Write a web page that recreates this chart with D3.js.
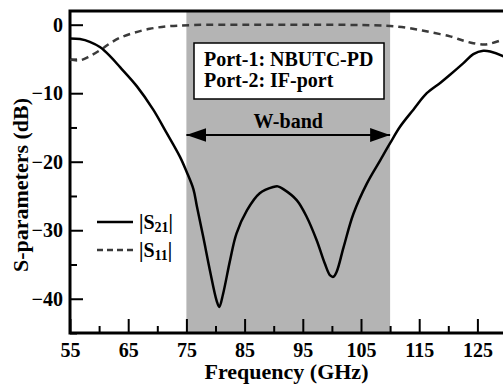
<!DOCTYPE html>
<html>
<head>
<meta charset="utf-8">
<script src="https://cdn.jsdelivr.net/npm/d3@7"></script>
<style>
  body { margin: 0; background: #fff; }
  svg text { font-family: "Liberation Serif", "Times New Roman", serif; font-weight: bold; fill: #000; }
</style>
</head>
<body>
<figure id="chart" style="margin:0"></figure>
<script>
// S21
const s21Freq = [55, 56.7, 58.4, 60.2, 62, 63.6, 66.5, 69.3, 71.6, 73.9, 75, 76.2, 76.8, 77.9, 79.05, 80.2, 80.65,
  81.3, 82.5, 83.6, 85.4, 87.6, 89.9, 90.7, 91.65, 93.95, 95.7, 97.4, 98.8, 99.7, 100.25, 100.8, 102, 103.7,
  106, 108.3, 110, 111.7, 114, 116.3, 118.6, 120.3, 122.6, 124.3, 126, 127.2, 129.4, 130];
const s21Db = [-2.0, -2.1, -2.5, -3.3, -4.7, -6.2, -9.0, -12.4, -15.8, -19.3, -21.4, -24.0, -26.5, -31.0, -35.9, -40.3, -41.2,
  -39.3, -34.4, -30.5, -27.1, -24.6, -23.7, -23.6, -24.0, -25.6, -28.1, -31.5, -34.9, -36.6, -36.8, -36.1, -32.5, -27.6,
  -23.2, -19.8, -17.3, -14.9, -12.4, -10.0, -8.5, -7.3, -5.6, -4.3, -3.8, -3.9, -4.6, -4.9];

// S11
const s11Freq = [55, 56.7, 58.4, 60.2, 61.9, 63.6, 65.9, 68.7, 71.6, 76, 85, 95, 105, 109.4, 112, 114.6, 117,
  120.3, 122.5, 124.3, 126.2, 127.5, 129, 130];
const s11Db = [-5.1, -5.2, -4.6, -3.7, -2.7, -1.9, -1.2, -0.6, -0.25, -0.05, 0, 0, -0.05, -0.15, -0.35, -0.7, -1.1,
  -1.7, -2.3, -2.7, -2.9, -2.7, -2.3, -2.0];

const xMajor = [55, 65, 75, 85, 95, 105, 115, 125];
const xMinor = [60, 70, 80, 90, 100, 110, 120, 130];
const yMajor = [0, -10, -20, -30, -40];
const yMinor = [-5, -15, -25, -35, -45];
const band = [75, 110];
const bandLabel = "W-band";
const portLines = ["Port-1: NBUTC-PD", "Port-2: IF-port"];

const W = 503, H = 385;
const mLeft = 70, mTop = 11, mBottom = 333, mRight = 506.5;

const svg = d3.select("#chart").append("svg").attr("width", W).attr("height", H);

const x = d3.scaleLinear().domain([55, 130]).range([mLeft, mRight]);
const y = d3.scaleLinear().domain([-45, 2]).range([mBottom, mTop]);

// gray band
svg.append("rect")
  .attr("x", x(band[0])).attr("y", mTop)
  .attr("width", x(band[1]) - x(band[0])).attr("height", mBottom - mTop)
  .attr("fill", "#b4b4b4");

// axes
svg.append("g").attr("transform", `translate(0,${mBottom})`)
  .call(d3.axisBottom(x).tickValues(xMajor).tickSize(-14).tickPadding(10).tickFormat(d3.format("d")));
svg.append("g").attr("transform", `translate(0,${mBottom})`)
  .call(d3.axisBottom(x).tickValues(xMinor).tickSize(-7).tickFormat(""));
svg.append("g").attr("transform", `translate(${mLeft},0)`)
  .call(d3.axisLeft(y).tickValues(yMajor).tickSize(-13).tickPadding(7).tickFormat(d3.format("d")));
svg.append("g").attr("transform", `translate(${mLeft},0)`)
  .call(d3.axisLeft(y).tickValues(yMinor).tickSize(-7).tickFormat(""));

svg.selectAll(".domain").remove();
svg.selectAll(".tick line").attr("stroke", "#000").attr("stroke-width", 2);
svg.selectAll(".tick text").attr("font-size", null).attr("font-family", null)
  .style("font-size", "20px").style("font-family", "Liberation Serif").style("font-weight", "bold");

// frame
svg.append("rect")
  .attr("x", mLeft).attr("y", mTop).attr("width", mRight - mLeft).attr("height", mBottom - mTop)
  .attr("fill", "none").attr("stroke", "#000").attr("stroke-width", 3);

// curves
const line = d3.line().curve(d3.curveCatmullRom.alpha(0.5));
svg.append("path")
  .attr("d", line(s11Freq.map((f, i) => [x(f), y(s11Db[i])])))
  .attr("fill", "none").attr("stroke", "#3a3a3a").attr("stroke-width", 2.5).attr("stroke-dasharray", "7,5");
svg.append("path")
  .attr("d", line(s21Freq.map((f, i) => [x(f), y(s21Db[i])])))
  .attr("fill", "none").attr("stroke", "#000").attr("stroke-width", 2.5);

// port box
svg.append("rect").attr("x", 194).attr("y", 43).attr("width", 190).attr("height", 56)
  .attr("fill", "#fff").attr("stroke", "#000").attr("stroke-width", 1.5);
svg.selectAll(".port").data(portLines).enter().append("text")
  .attr("x", 204).attr("y", (d, i) => 66 + i * 21)
  .style("font-size", "20px").text(d => d);

// W-band arrow
const defs = svg.append("defs");
defs.append("marker").attr("id", "ah").attr("viewBox", "0 0 20 14")
  .attr("refX", 20).attr("refY", 7).attr("markerWidth", 20).attr("markerHeight", 14)
  .attr("markerUnits", "userSpaceOnUse").attr("orient", "auto-start-reverse")
  .append("path").attr("d", "M0,0L20,7L0,14Z").attr("fill", "#000");
svg.append("line")
  .attr("x1", x(band[0])).attr("x2", x(band[1])).attr("y1", 135).attr("y2", 135)
  .attr("stroke", "#000").attr("stroke-width", 2)
  .attr("marker-start", "url(#ah)").attr("marker-end", "url(#ah)");
svg.append("text").attr("x", (x(band[0]) + x(band[1])) / 2).attr("y", 128)
  .attr("text-anchor", "middle").style("font-size", "20px").text(bandLabel);

// legend
const legend = [{name: "21", dash: null, color: "#000"}, {name: "11", dash: "6,4", color: "#3a3a3a"}];
legend.forEach((d, i) => {
  const ly = 222 + i * 28;
  svg.append("line").attr("x1", 97).attr("x2", 133).attr("y1", ly).attr("y2", ly)
    .attr("stroke", d.color).attr("stroke-width", 2.5).attr("stroke-dasharray", d.dash);
  const t = svg.append("text").attr("x", 139).attr("y", ly + 7).style("font-size", "20px");
  t.append("tspan").text("|S");
  t.append("tspan").attr("dy", 3).style("font-size", "14px").text(d.name);
  t.append("tspan").attr("dy", -3).text("|");
});

// axis titles
svg.append("text").attr("x", (mLeft + W) / 2).attr("y", 379)
  .attr("text-anchor", "middle").style("font-size", "22px").text("Frequency (GHz)");
svg.append("text").attr("transform", "translate(28,185) rotate(-90)")
  .attr("text-anchor", "middle").style("font-size", "22px").text("S-parameters (dB)");
</script>
</body>
</html>
